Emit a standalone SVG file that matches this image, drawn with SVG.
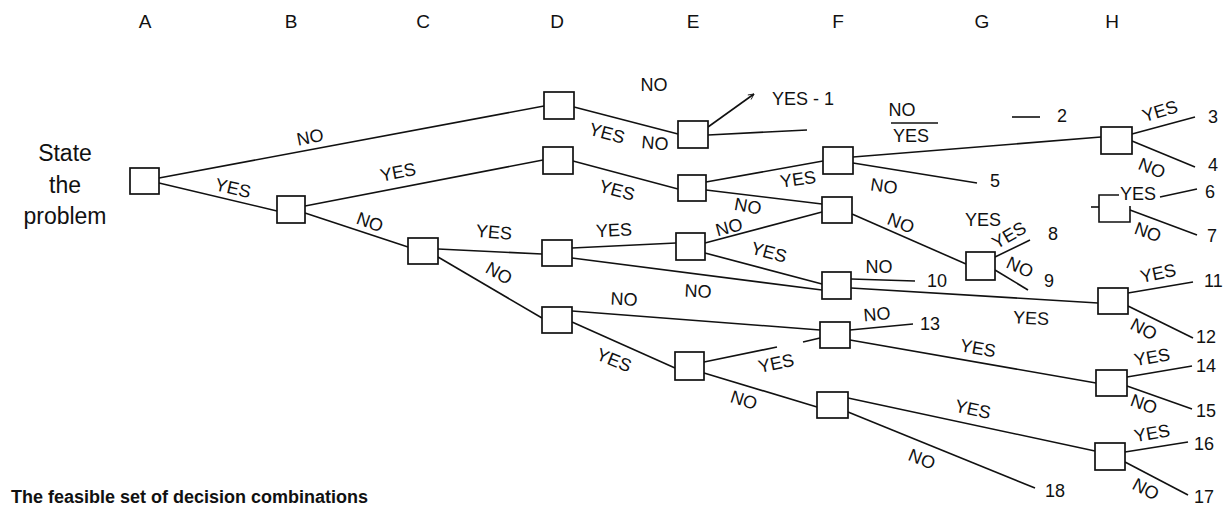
<svg xmlns="http://www.w3.org/2000/svg" width="1226" height="506" viewBox="0 0 1226 506">
<defs>
<style>
.bx{fill:#fff;stroke:#111;stroke-width:1.7}
.ln{stroke:#111;stroke-width:1.6;fill:none}
.lb{font-family:"Liberation Sans",Arial,sans-serif;font-size:18px;fill:#111;text-anchor:middle}
.nm{font-family:"Liberation Sans",Arial,sans-serif;font-size:18px;fill:#111}
.hd{font-family:"Liberation Sans",Arial,sans-serif;font-size:19px;fill:#111;text-anchor:middle}
.st{font-family:"Liberation Sans",Arial,sans-serif;font-size:23px;fill:#111;text-anchor:middle}
</style>
<marker id="ah" viewBox="0 0 10 10" refX="9" refY="5" markerWidth="7" markerHeight="7" orient="auto" markerUnits="userSpaceOnUse">
<path d="M1,1 L9,5 L1,9" fill="none" stroke="#111" stroke-width="1.2"/>
</marker>
</defs>
<rect width="1226" height="506" fill="#fff"/>

<g id="headers">
<text class="hd" x="145" y="28">A</text>
<text class="hd" x="291" y="28">B</text>
<text class="hd" x="423" y="28">C</text>
<text class="hd" x="557" y="28">D</text>
<text class="hd" x="693" y="28">E</text>
<text class="hd" x="838" y="28">F</text>
<text class="hd" x="982" y="28">G</text>
<text class="hd" x="1112" y="28">H</text>
</g>

<g id="start-label">
<text class="st" x="65" y="161">State</text>
<text class="st" x="65" y="193">the</text>
<text class="st" x="65" y="224">problem</text>
</g>

<g id="connectors">
<line class="ln" x1="159" y1="178" x2="544" y2="106"/>
<line class="ln" x1="159" y1="183" x2="277" y2="211"/>
<line class="ln" x1="305" y1="206" x2="543" y2="160"/>
<line class="ln" x1="305" y1="213" x2="408" y2="247"/>
<line class="ln" x1="438" y1="249" x2="542" y2="254"/>
<line class="ln" x1="438" y1="257" x2="542" y2="318"/>
<line class="ln" x1="574" y1="107" x2="678" y2="134"/>
<line class="ln" x1="708" y1="127" x2="754" y2="94" marker-end="url(#ah)"/>
<line class="ln" x1="708" y1="135" x2="807" y2="130"/>
<line class="ln" x1="573" y1="161" x2="678" y2="189"/>
<line class="ln" x1="706" y1="182" x2="823" y2="161"/>
<line class="ln" x1="706" y1="190" x2="822" y2="204"/>
<line class="ln" x1="572" y1="248" x2="676" y2="243"/>
<line class="ln" x1="572" y1="258" x2="822" y2="290"/>
<line class="ln" x1="705" y1="243" x2="822" y2="212"/>
<line class="ln" x1="705" y1="253" x2="822" y2="284"/>
<line class="ln" x1="572" y1="311" x2="820" y2="330"/>
<line class="ln" x1="572" y1="322" x2="675" y2="368"/>
<line class="ln" x1="704" y1="362" x2="777" y2="347"/>
<line class="ln" x1="803" y1="342" x2="820" y2="338"/>
<line class="ln" x1="704" y1="373" x2="817" y2="407"/>
<line class="ln" x1="853" y1="157" x2="1101" y2="137"/>
<line class="ln" x1="853" y1="163" x2="977" y2="183"/>
<line class="ln" x1="852" y1="214" x2="966" y2="264"/>
<line class="ln" x1="995" y1="257" x2="1030" y2="240"/>
<line class="ln" x1="995" y1="270" x2="1028" y2="290"/>
<line class="ln" x1="851" y1="279" x2="915" y2="281"/>
<line class="ln" x1="851" y1="288" x2="1098" y2="303"/>
<line class="ln" x1="850" y1="330" x2="913" y2="324"/>
<line class="ln" x1="850" y1="340" x2="1096" y2="383"/>
<line class="ln" x1="848" y1="398" x2="1095" y2="451"/>
<line class="ln" x1="848" y1="412" x2="1035" y2="488"/>
<line class="ln" x1="1132" y1="134" x2="1195" y2="117"/>
<line class="ln" x1="1132" y1="141" x2="1195" y2="167"/>
<line class="ln" x1="1160" y1="197" x2="1197" y2="189"/>
<line class="ln" x1="1130" y1="210" x2="1197" y2="235"/>
<line class="ln" x1="1091" y1="207" x2="1099" y2="207"/>
<line class="ln" x1="1128" y1="293" x2="1193" y2="282"/>
<line class="ln" x1="1128" y1="306" x2="1193" y2="338"/>
<line class="ln" x1="1127" y1="377" x2="1192" y2="366"/>
<line class="ln" x1="1127" y1="386" x2="1192" y2="409"/>
<line class="ln" x1="1125" y1="452" x2="1188" y2="442"/>
<line class="ln" x1="1125" y1="462" x2="1188" y2="495"/>
<line class="ln" x1="891" y1="123" x2="938" y2="123" stroke-width="1.2"/>
<line class="ln" x1="1012" y1="117" x2="1040" y2="117" stroke-width="1.2"/>
</g>

<g id="labels">
<text class="lb" transform="translate(310 137) rotate(-11)" dy="0.35em">NO</text>
<text class="lb" transform="translate(233 188) rotate(13)" dy="0.35em">YES</text>
<text class="lb" transform="translate(398 172) rotate(-11)" dy="0.35em">YES</text>
<text class="lb" transform="translate(370 222) rotate(20)" dy="0.35em">NO</text>
<text class="lb" transform="translate(494 232) rotate(5)" dy="0.35em">YES</text>
<text class="lb" transform="translate(499 273) rotate(30)" dy="0.35em">NO</text>
<text class="lb" transform="translate(607 133) rotate(15)" dy="0.35em">YES</text>
<text class="lb" transform="translate(655 143) rotate(5)" dy="0.35em">NO</text>
<text class="lb" transform="translate(654 85)" dy="0.35em">NO</text>
<text class="lb" transform="translate(617 190) rotate(15)" dy="0.35em">YES</text>
<text class="nm" x="772" y="105">YES - 1</text>
<text class="lb" transform="translate(798 179) rotate(-8)" dy="0.35em">YES</text>
<text class="lb" transform="translate(748 206) rotate(10)" dy="0.35em">NO</text>
<text class="lb" transform="translate(614 230) rotate(-3)" dy="0.35em">YES</text>
<text class="lb" transform="translate(698 291) rotate(3)" dy="0.35em">NO</text>
<text class="lb" transform="translate(729 227) rotate(-15)" dy="0.35em">NO</text>
<text class="lb" transform="translate(769 252) rotate(15)" dy="0.35em">YES</text>
<text class="lb" transform="translate(624 299) rotate(3)" dy="0.35em">NO</text>
<text class="lb" transform="translate(614 360) rotate(22)" dy="0.35em">YES</text>
<text class="lb" transform="translate(776 363) rotate(-12)" dy="0.35em">YES</text>
<text class="lb" transform="translate(744 400) rotate(18)" dy="0.35em">NO</text>
<text class="lb" transform="translate(902 110)" dy="0.35em">NO</text>
<text class="lb" transform="translate(911 136)" dy="0.35em">YES</text>
<text class="nm" x="1057" y="122">2</text>
<text class="lb" transform="translate(884 186) rotate(8)" dy="0.35em">NO</text>
<text class="nm" x="990" y="187">5</text>
<text class="lb" transform="translate(901 223) rotate(22)" dy="0.35em">NO</text>
<text class="lb" transform="translate(983 220)" dy="0.35em">YES</text>
<text class="lb" transform="translate(1009 235) rotate(-30)" dy="0.35em">YES</text>
<text class="nm" x="1048" y="240">8</text>
<text class="lb" transform="translate(1020 267) rotate(25)" dy="0.35em">NO</text>
<text class="nm" x="1044" y="287">9</text>
<text class="lb" transform="translate(879 267)" dy="0.35em">NO</text>
<text class="nm" x="927" y="287">10</text>
<text class="lb" transform="translate(1031 318) rotate(3)" dy="0.35em">YES</text>
<text class="lb" transform="translate(877 314) rotate(-5)" dy="0.35em">NO</text>
<text class="nm" x="920" y="330">13</text>
<text class="lb" transform="translate(978 348) rotate(10)" dy="0.35em">YES</text>
<text class="lb" transform="translate(973 409) rotate(12)" dy="0.35em">YES</text>
<text class="lb" transform="translate(922 459) rotate(22)" dy="0.35em">NO</text>
<text class="nm" x="1045" y="497">18</text>
<text class="lb" transform="translate(1160 111) rotate(-17)" dy="0.35em">YES</text>
<text class="nm" x="1208" y="123">3</text>
<text class="lb" transform="translate(1152 168) rotate(22)" dy="0.35em">NO</text>
<text class="nm" x="1208" y="171">4</text>
<text class="lb" transform="translate(1138 194)" dy="0.35em">YES</text>
<text class="nm" x="1205" y="198">6</text>
<text class="lb" transform="translate(1148 232) rotate(20)" dy="0.35em">NO</text>
<text class="nm" x="1207" y="242">7</text>
<text class="lb" transform="translate(1158 273) rotate(-12)" dy="0.35em">YES</text>
<text class="nm" x="1204" y="287">11</text>
<text class="lb" transform="translate(1144 329) rotate(28)" dy="0.35em">NO</text>
<text class="nm" x="1196" y="343">12</text>
<text class="lb" transform="translate(1152 357) rotate(-10)" dy="0.35em">YES</text>
<text class="nm" x="1196" y="372">14</text>
<text class="lb" transform="translate(1144 404) rotate(20)" dy="0.35em">NO</text>
<text class="nm" x="1196" y="417">15</text>
<text class="lb" transform="translate(1152 433) rotate(-10)" dy="0.35em">YES</text>
<text class="nm" x="1194" y="450">16</text>
<text class="lb" transform="translate(1146 489) rotate(28)" dy="0.35em">NO</text>
<text class="nm" x="1194" y="503">17</text>
</g>

<g id="node-A"><rect class="bx" x="130" y="168" width="29" height="26"/></g>
<g id="node-B"><rect class="bx" x="277" y="196" width="28" height="27"/></g>
<g id="node-C"><rect class="bx" x="408" y="238" width="30" height="26"/></g>
<g id="node-D1"><rect class="bx" x="544" y="92" width="30" height="27"/></g>
<g id="node-D2"><rect class="bx" x="543" y="147" width="30" height="27"/></g>
<g id="node-D3"><rect class="bx" x="542" y="240" width="30" height="26"/></g>
<g id="node-D4"><rect class="bx" x="542" y="307" width="30" height="26"/></g>
<g id="node-E1"><rect class="bx" x="678" y="121" width="30" height="27"/></g>
<g id="node-E2"><rect class="bx" x="678" y="175" width="28" height="26"/></g>
<g id="node-E3"><rect class="bx" x="676" y="233" width="29" height="27"/></g>
<g id="node-E4"><rect class="bx" x="675" y="352" width="29" height="28"/></g>
<g id="node-F1"><rect class="bx" x="823" y="147" width="30" height="27"/></g>
<g id="node-F2"><rect class="bx" x="822" y="197" width="30" height="26"/></g>
<g id="node-F3"><rect class="bx" x="822" y="272" width="29" height="27"/></g>
<g id="node-F4"><rect class="bx" x="820" y="322" width="30" height="26"/></g>
<g id="node-F5"><rect class="bx" x="817" y="392" width="31" height="26"/></g>
<g id="node-G"><rect class="bx" x="966" y="252" width="29" height="28"/></g>
<g id="node-H1"><rect class="bx" x="1101" y="127" width="31" height="27"/></g>
<g id="node-H2"><path class="ln" stroke-width="1.7" d="M1119,195 H1099 V222 H1130 V206"/></g>
<g id="node-H3"><rect class="bx" x="1098" y="288" width="30" height="26"/></g>
<g id="node-H4"><rect class="bx" x="1096" y="370" width="31" height="26"/></g>
<g id="node-H5"><rect class="bx" x="1095" y="443" width="30" height="27"/></g>

<g id="footer">
<text x="11" y="503" font-family="'Liberation Sans',Arial,sans-serif" font-size="18" font-weight="bold" fill="#111">The feasible set of decision combinations</text>
</g>
</svg>
